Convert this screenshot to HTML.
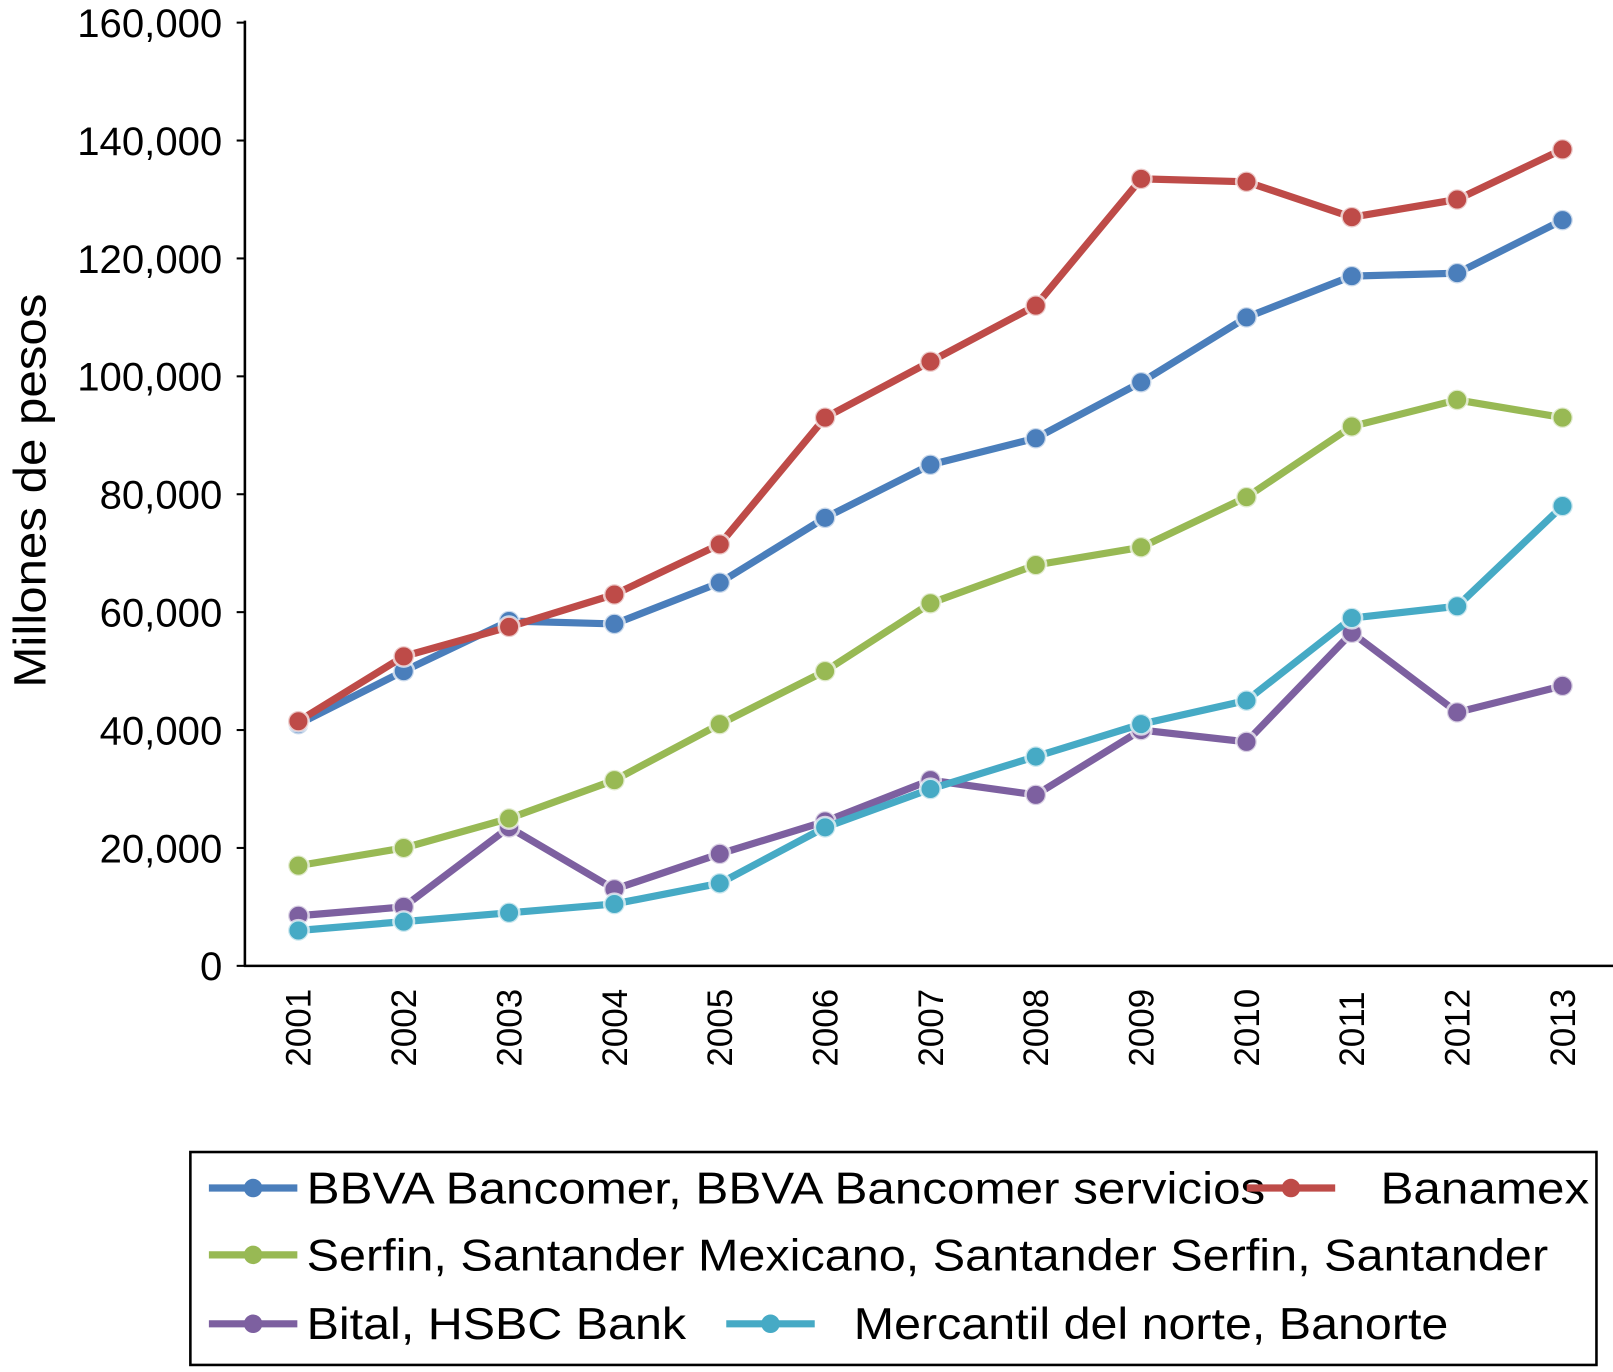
<!DOCTYPE html>
<html><head><meta charset="utf-8"><style>body{margin:0;background:#fff}svg text{font-family:"Liberation Sans",sans-serif;fill:#000}</style></head>
<body>
<svg width="1613" height="1367" viewBox="0 0 1568 1329">
<g id="axes"></g><g id="plot"></g>
<text transform="translate(44,477) rotate(-90)" text-anchor="middle" font-size="44" textLength="383" lengthAdjust="spacingAndGlyphs">Millones de pesos</text>
<rect x="185" y="1120" width="1367" height="207" fill="none" stroke="#000" stroke-width="2.5"/>
<g id="legend"></g>
</svg>
<script>
const years=[2001,2002,2003,2004,2005,2006,2007,2008,2009,2010,2011,2012,2013];
const yTicks=[0,20000,40000,60000,80000,100000,120000,140000,160000];
const bbva=[41000,50000,58500,58000,65000,76000,85000,89500,99000,110000,117000,117500,126500];
const banamex=[41500,52500,57500,63000,71500,93000,102500,112000,133500,133000,127000,130000,138500];
const serfin=[17000,20000,25000,31500,41000,50000,61500,68000,71000,79500,91500,96000,93000];
const bital=[8500,10000,23500,13000,19000,24500,31500,29000,40000,38000,56500,43000,47500];
const banorte=[6000,7500,9000,10500,14000,23500,30000,35500,41000,45000,59000,61000,78000];
const names=["BBVA Bancomer, BBVA Bancomer servicios","Banamex","Serfin, Santander Mexicano, Santander Serfin, Santander","Bital, HSBC Bank","Mercantil del norte, Banorte"];
const NS="http://www.w3.org/2000/svg";
const X=i=>290+i*(1519-290)/12, Y=v=>939-v*(939-22)/160000;
function mk(t,a,p){const e=document.createElementNS(NS,t);for(const k in a)e.setAttribute(k,a[k]);p.appendChild(e);return e;}
const ax=document.getElementById('axes');
const yl=mk('line',{x1:238,y1:20,x2:238,y2:939,stroke:'#000','stroke-width':2.5},ax);


const xl=mk('line',{x1:237,y1:939,x2:1570,y2:939,stroke:'#000','stroke-width':2.5},ax);


yTicks.forEach(v=>{mk('line',{x1:230,x2:238,y1:Y(v),y2:Y(v),stroke:'#000','stroke-width':2},ax);
const t=mk('text',{x:216,y:Y(v)+14,'text-anchor':'end','font-size':39},ax);t.textContent=v.toLocaleString('en-US');

});
years.forEach((y,i)=>{const t=mk('text',{transform:`translate(${X(i)+12},1037) rotate(-90)`,'font-size':34},ax);t.textContent=y;

});
const series=[bbva,banamex,serfin,bital,banorte];
const cols=["#4a7ebb","#be4b48","#98b954","#7d60a0","#46aac5"];
const order=[3,4,2,0,1];
const pl=document.getElementById('plot');
order.forEach(s=>{const g=mk('g',{},pl);


mk('polyline',{points:series[s].map((v,i)=>X(i)+','+Y(v)).join(' '),fill:'none',stroke:cols[s],'stroke-width':7},g);
series[s].forEach((v,i)=>{const c=mk('circle',{cx:X(i),cy:Y(v),r:10,fill:cols[s],stroke:'#fff','stroke-opacity':0.7,'stroke-width':2.5},g);

});});
const lg=document.getElementById('legend');
const pos=[[203,1155,298,932],[1212,1155,1342,203],[203,1220,298,1207],[203,1287,298,369],[706,1287,830,578]];
pos.forEach((p,s)=>{const g=mk('g',{},lg);


mk('line',{x1:p[0],x2:p[0]+86,y1:p[1],y2:p[1],stroke:cols[s],'stroke-width':7},g);
mk('circle',{cx:p[0]+43,cy:p[1],r:9,fill:cols[s]},g);
const t=mk('text',{x:p[2],y:p[1]+15,'font-size':43,textLength:p[3],lengthAdjust:'spacingAndGlyphs'},g);t.textContent=names[s];});
</script>
</body></html>
